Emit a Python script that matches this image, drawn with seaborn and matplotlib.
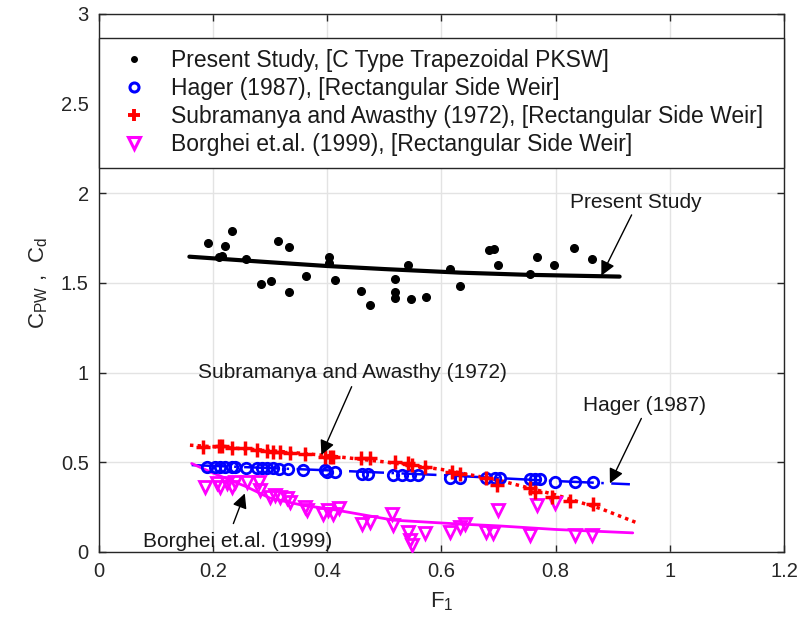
import matplotlib
matplotlib.use("Agg")
import matplotlib.pyplot as plt
import numpy as np
import pandas as pd
import seaborn as sns
from matplotlib.lines import Line2D

# ---------------- data ----------------
present_F = [0.191, 0.233, 0.221, 0.210, 0.216, 0.258, 0.314, 0.333, 0.284, 0.302,
             0.334, 0.363, 0.403, 0.403, 0.414, 0.460, 0.476, 0.519, 0.519, 0.519,
             0.547, 0.573, 0.542, 0.616, 0.633, 0.683, 0.693, 0.700, 0.767, 0.756,
             0.798, 0.833, 0.864]
present_C = [1.721, 1.791, 1.706, 1.643, 1.650, 1.633, 1.734, 1.702, 1.494, 1.512,
             1.451, 1.539, 1.646, 1.609, 1.516, 1.453, 1.377, 1.522, 1.451, 1.414,
             1.410, 1.423, 1.598, 1.576, 1.484, 1.684, 1.689, 1.602, 1.645, 1.550,
             1.600, 1.696, 1.635]
present_fit_F = [0.159, 0.30, 0.40, 0.50, 0.633, 0.75, 0.912]
present_fit_C = [1.646, 1.615, 1.594, 1.577, 1.557, 1.545, 1.535]

hager_F = [0.189, 0.204, 0.213, 0.221, 0.233, 0.239, 0.258, 0.277, 0.286, 0.294,
           0.306, 0.315, 0.332, 0.358, 0.396, 0.399, 0.414, 0.461, 0.472, 0.516,
           0.531, 0.545, 0.560, 0.615, 0.633, 0.679, 0.694, 0.703, 0.755, 0.764,
           0.773, 0.799, 0.834, 0.866]
hager_C = [0.475, 0.474, 0.474, 0.473, 0.472, 0.472, 0.470, 0.468, 0.467, 0.466,
           0.465, 0.464, 0.462, 0.459, 0.455, 0.446, 0.445, 0.437, 0.437, 0.428,
           0.428, 0.428, 0.428, 0.412, 0.410, 0.413, 0.413, 0.412, 0.406, 0.406,
           0.404, 0.391, 0.390, 0.387]
hager_fit_F = [0.163, 0.40, 0.60, 0.80, 0.93]
hager_fit_C = [0.484, 0.455, 0.428, 0.395, 0.377]

subra_F = [0.183, 0.210, 0.216, 0.233, 0.256, 0.277, 0.294, 0.306, 0.318, 0.335,
           0.361, 0.396, 0.405, 0.411, 0.460, 0.475, 0.519, 0.542, 0.548, 0.571,
           0.618, 0.633, 0.679, 0.697, 0.755, 0.764, 0.793, 0.825, 0.866]
subra_C = [0.586, 0.592, 0.590, 0.577, 0.577, 0.568, 0.562, 0.558, 0.555, 0.549,
           0.543, 0.530, 0.530, 0.530, 0.521, 0.521, 0.502, 0.493, 0.484, 0.474,
           0.446, 0.437, 0.410, 0.372, 0.354, 0.335, 0.307, 0.283, 0.265]
subra_fit_F = [0.16, 0.30, 0.40, 0.50, 0.60, 0.70, 0.80, 0.88, 0.94]
subra_fit_C = [0.595, 0.565, 0.537, 0.502, 0.460, 0.400, 0.318, 0.240, 0.165]

borg_F = [0.186, 0.207, 0.213, 0.224, 0.233, 0.239, 0.259, 0.280, 0.283, 0.300,
          0.309, 0.318, 0.329, 0.335, 0.361, 0.364, 0.393, 0.402, 0.411, 0.420,
          0.461, 0.475, 0.513, 0.516, 0.542, 0.545, 0.548, 0.571, 0.615, 0.633,
          0.641, 0.679, 0.691, 0.700, 0.755, 0.767, 0.799, 0.834, 0.863]
borg_C = [0.363, 0.382, 0.363, 0.382, 0.363, 0.391, 0.391, 0.391, 0.344, 0.307,
          0.316, 0.307, 0.298, 0.279, 0.251, 0.233, 0.214, 0.233, 0.214, 0.242,
          0.158, 0.167, 0.214, 0.149, 0.112, 0.065, 0.037, 0.103, 0.112, 0.140,
          0.158, 0.112, 0.103, 0.233, 0.093, 0.261, 0.270, 0.093, 0.093]
borg_fit_F = [0.163, 0.20, 0.259, 0.30, 0.36, 0.40, 0.516, 0.633, 0.70, 0.80, 0.935]
borg_fit_C = [0.493, 0.440, 0.363, 0.300, 0.258, 0.242, 0.177, 0.155, 0.145, 0.125, 0.106]

x_ticks = [0, 0.2, 0.4, 0.6, 0.8, 1.0, 1.2]
x_tick_labels = ["0", "0.2", "0.4", "0.6", "0.8", "1", "1.2"]
y_ticks = [0, 0.5, 1.0, 1.5, 2.0, 2.5, 3.0]
y_tick_labels = ["0", "0.5", "1", "1.5", "2", "2.5", "3"]

legend_labels = ["Present Study, [C Type Trapezoidal PKSW]",
                 "Hager (1987), [Rectangular Side Weir]",
                 "Subramanya and Awasthy (1972), [Rectangular Side Weir]",
                 "Borghei et.al. (1999), [Rectangular Side Weir]"]

# annotation texts
ann_texts = ["Present Study", "Subramanya and Awasthy (1972)",
             "Hager (1987)", "Borghei et.al. (1999)"]

# ---------------- style ----------------
sns.set_theme(style="whitegrid")
plt.rcParams["font.family"] = ["Liberation Sans", "DejaVu Sans"]
plt.rcParams["mathtext.default"] = "regular"

BLUE, RED, MAG, BLK = "#0000ff", "#ff0000", "#ff00ff", "#000000"
TXT = "#262626"

fig = plt.figure(figsize=(8.01, 6.30), dpi=100)
ax = fig.add_axes([0.123, 0.124, 0.856, 0.854])
ax.set_facecolor("white")

# fit lines
sns.lineplot(x=present_fit_F, y=present_fit_C, ax=ax, color=BLK, lw=3.0,
             sort=False, estimator=None, zorder=3)
sns.lineplot(x=hager_fit_F, y=hager_fit_C, ax=ax, color=BLUE, lw=1.8,
             sort=False, estimator=None, zorder=3, linestyle=(0, (14, 3, 1, 3)))
sns.lineplot(x=subra_fit_F, y=subra_fit_C, ax=ax, color=RED, lw=2.5,
             sort=False, estimator=None, zorder=3, linestyle=(0, (1, 1.2)))
sns.lineplot(x=borg_fit_F, y=borg_fit_C, ax=ax, color=MAG, lw=2.0,
             sort=False, estimator=None, zorder=3)

# markers
ax.plot(present_F, present_C, "o", color=BLK, ms=5.5, zorder=4)
ax.plot(hager_F, hager_C, "o", mfc="none", mec=BLUE, ms=7.5, mew=2.0, zorder=4)
ax.plot(subra_F, subra_C, "+", color=RED, ms=10, mew=2.5, zorder=5)
ax.plot(borg_F, borg_C, "v", mfc="none", mec=MAG, ms=9, mew=2.0, zorder=4)

# axes
ax.set_xlim(0, 1.2)
ax.set_ylim(0, 3)
ax.set_xticks(x_ticks)
ax.set_xticklabels(x_tick_labels)
ax.set_yticks(y_ticks)
ax.set_yticklabels(y_tick_labels)
ax.tick_params(axis="both", direction="in", length=5, width=1, colors=TXT,
               labelsize=14.5, pad=7, bottom=True, left=True, top=True, right=True,
               labeltop=False, labelright=False)
ax.grid(True, color="#e3e3e3", lw=1.0)
for s in ax.spines.values():
    s.set_color(TXT)
    s.set_linewidth(1.0)
ax.set_xlabel(r"F$_1$", fontsize=16, color=TXT, labelpad=7)
ax.set_ylabel(r"C$_{PW}$ ,  C$_d$", fontsize=16, color=TXT, labelpad=8)

# legend
handles = [
    Line2D([], [], ls="none", marker="o", color=BLK, ms=4),
    Line2D([], [], ls="none", marker="o", mfc="none", mec=BLUE, ms=6.5, mew=2.2),
    Line2D([], [], ls="none", marker="+", color=RED, ms=9, mew=2.8),
    Line2D([], [], ls="none", marker="v", mfc="none", mec=MAG, ms=9, mew=2.2),
]
leg = ax.legend(handles, legend_labels, loc="upper left",
                bbox_to_anchor=(0.0, 0.713, 1.0, 0.243), mode="expand",
                fontsize=16.5, frameon=True, fancybox=False, framealpha=1,
                edgecolor=TXT, handlelength=2.1, handletextpad=0.55,
                labelspacing=0.22, borderpad=0.5, borderaxespad=0)
leg.get_frame().set_linewidth(1.0)
for t in leg.get_texts():
    t.set_color("#1a1a1a")

# annotations: arrows then texts
ap = dict(arrowstyle="-|>", color="black", lw=1.0, mutation_scale=22,
          shrinkA=0, shrinkB=0)
arrow_tail = [(0.933, 1.879), (0.443, 0.921), (0.950, 0.744), (0.236, 0.158)]
arrow_head = [(0.880, 1.54), (0.39, 0.54), (0.895, 0.382), (0.256, 0.326)]
text_pos = [(0.94, 1.946), (0.445, 1.0), (0.955, 0.819), (0.243, 0.058)]
for tail, head in zip(arrow_tail, arrow_head):
    ax.annotate("", xy=head, xytext=tail, arrowprops=ap, zorder=6)
for txt, pos in zip(ann_texts, text_pos):
    ax.text(pos[0], pos[1], txt, ha="center", va="center", fontsize=15,
            color="#1a1a1a", zorder=6)

fig.savefig("out.png", dpi=100)
